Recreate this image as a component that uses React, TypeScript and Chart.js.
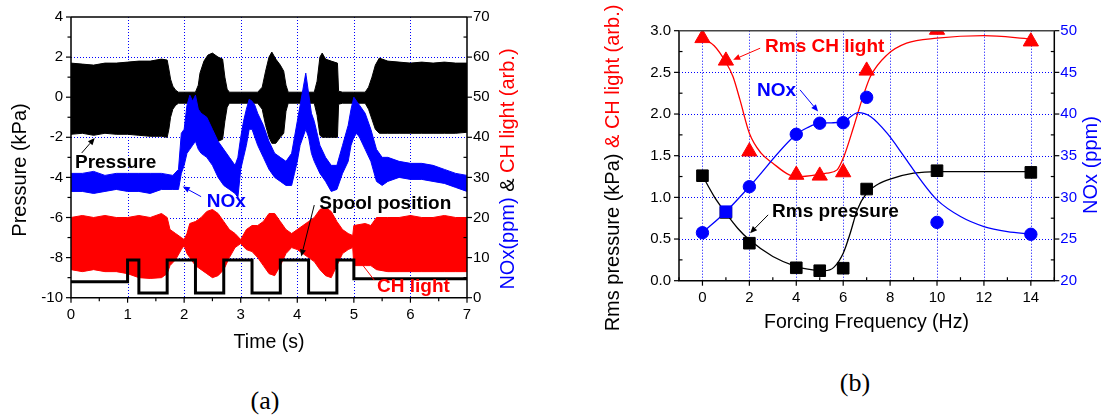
import React, { useEffect, useRef } from "react";
import { Chart, registerables } from "chart.js";

Chart.register(...registerables);

// ================= Panel (a): time traces (envelopes of dense signals) =================
const timeTicks = [0, 1, 2, 3, 4, 5, 6, 7];
const pressureTicks = [-10, -8, -6, -4, -2, 0, 2, 4];
const rightTicksA = [0, 10, 20, 30, 40, 50, 60, 70];

// Pressure (kPa) – upper/lower envelope of the oscillating trace
const pressureTimes = [0, 0.2, 0.4, 0.6, 0.8, 1.0, 1.2, 1.4, 1.6, 1.7, 1.73, 1.76, 1.8, 1.85, 1.9, 2.0, 2.2, 2.25, 2.28, 2.35, 2.42, 2.5, 2.6, 2.68, 2.72, 2.76, 2.8, 3.0, 3.3, 3.38, 3.44, 3.5, 3.55, 3.62, 3.7, 3.76, 3.8, 3.84, 4.0, 4.3, 4.35, 4.4, 4.44, 4.5, 4.6, 4.71, 4.73, 4.8, 5.0, 5.2, 5.26, 5.32, 5.38, 5.45, 5.6, 5.8, 6.0, 6.2, 6.4, 6.6, 6.8, 7.0];
const pressureUpper = [1.7, 1.65, 1.6, 1.7, 1.7, 1.75, 1.8, 1.8, 1.9, 1.85, 1.4, 0.9, 0.55, 0.35, 0.25, 0.25, 0.25, 0.6, 1.2, 1.8, 2.1, 2.2, 2.0, 1.9, 1.0, 0.4, 0.25, 0.25, 0.25, 0.5, 1.3, 2.0, 2.25, 1.9, 1.6, 1.3, 0.6, 0.25, 0.25, 0.25, 0.8, 2.0, 2.2, 1.9, 1.8, 1.7, 0.3, 0.25, 0.25, 0.25, 0.5, 1.0, 1.6, 1.95, 1.8, 1.75, 1.7, 1.75, 1.7, 1.75, 1.7, 1.7];
const pressureLower = [-1.85, -1.8, -1.9, -1.8, -1.85, -1.85, -1.9, -1.95, -1.95, -2.0, -1.6, -1.0, -0.6, -0.4, -0.3, -0.3, -0.3, -0.8, -1.5, -1.9, -2.1, -2.3, -2.2, -2.1, -1.2, -0.5, -0.3, -0.3, -0.3, -0.6, -1.4, -2.0, -2.3, -2.3, -2.0, -1.8, -0.7, -0.3, -0.3, -0.3, -0.9, -1.9, -2.0, -2.0, -2.0, -2.0, -0.35, -0.3, -0.3, -0.3, -0.6, -1.1, -1.6, -1.8, -1.8, -1.8, -1.8, -1.8, -1.8, -1.8, -1.8, -1.75];

// NOx (ppm, right axis) – envelope
const noxTimes = [0, 0.2, 0.4, 0.6, 0.8, 1.0, 1.2, 1.4, 1.6, 1.8, 1.9, 1.95, 2.0, 2.05, 2.1, 2.15, 2.2, 2.25, 2.3, 2.4, 2.5, 2.6, 2.7, 2.8, 2.9, 2.95, 3.0, 3.05, 3.1, 3.15, 3.2, 3.25, 3.3, 3.4, 3.5, 3.6, 3.7, 3.8, 3.9, 3.95, 4.0, 4.05, 4.1, 4.15, 4.2, 4.25, 4.3, 4.4, 4.5, 4.6, 4.7, 4.8, 4.9, 4.95, 5.0, 5.05, 5.1, 5.2, 5.3, 5.4, 5.5, 5.6, 5.8, 6.0, 6.2, 6.4, 6.6, 6.8, 7.0];
const noxUpper = [31, 31, 31.5, 30.5, 31, 31, 31, 31, 31, 30.5, 32, 41, 42, 48, 50.5, 49, 50.5, 47, 46, 45, 42, 39, 37, 35, 33, 35, 40, 44, 47, 49.5, 49, 48, 46, 43, 39, 36, 35, 34, 36, 40, 44, 48, 52, 56, 51, 46, 44, 38, 35, 33, 33, 38, 43, 47, 50, 49, 48, 46, 42, 37, 35, 35, 34, 33.5, 33.5, 33, 32, 31, 30.5];
const noxLower = [26.5, 26.5, 26, 26.5, 27, 26.5, 26.5, 26, 27, 27, 27, 31, 33, 36, 37, 38, 39, 37, 36, 35, 33, 30, 28, 27, 26, 25, 32, 35, 38, 42, 42, 40, 38, 35, 32, 30, 29, 28, 28, 31, 34, 38, 40, 42, 40, 36, 34, 31, 29, 26.5, 27, 31, 34, 38, 40, 41, 40, 37, 34, 29, 28, 29, 30, 29.5, 29.5, 29, 28.5, 27.5, 26.5];

// CH light (arb., right axis) – envelope
const chTimes = [0, 0.2, 0.4, 0.6, 0.8, 1.0, 1.2, 1.4, 1.6, 1.7, 1.75, 1.85, 1.95, 2.0, 2.05, 2.1, 2.2, 2.3, 2.4, 2.5, 2.6, 2.7, 2.8, 2.9, 3.0, 3.1, 3.2, 3.3, 3.4, 3.5, 3.6, 3.7, 3.8, 3.9, 4.0, 4.1, 4.2, 4.3, 4.4, 4.5, 4.6, 4.7, 4.8, 4.9, 4.98, 5.0, 5.2, 5.3, 5.4, 5.6, 5.8, 6.0, 6.2, 6.4, 6.6, 6.8, 7.0];
const chUpper = [20, 20.5, 20, 20.5, 20, 20, 20.5, 20, 21, 20, 17, 16, 15, 14.5, 16, 18.5, 19, 20, 21.5, 22, 21, 19, 17, 16, 14.5, 17, 18, 18, 19, 21, 21, 19, 17, 16, 17, 18, 19, 20, 22, 22.5, 21.5, 19, 17, 16, 15.5, 18, 18.5, 18, 20, 20, 20, 20.5, 20, 20, 20.5, 20, 20];
const chLower = [7, 6.5, 7, 6.5, 6.5, 6, 5, 4.8, 5, 6, 8, 9.5, 12, 13, 11, 10, 8, 7, 6, 5, 5.5, 7, 10, 12.5, 13.5, 12, 11.5, 10, 8, 6, 5.5, 8, 11, 12.5, 12, 11, 10, 9, 7, 5.5, 5, 8, 11, 12, 12.5, 8, 8, 8, 7, 6.5, 6.5, 6.5, 6.5, 6.5, 6.5, 6.5, 6.5];

// Spool position (right-axis units), each level holds until the next time
const spoolTimes = [0, 1.0, 1.2, 1.7, 2.2, 2.7, 3.2, 3.7, 4.2, 4.7, 5.0, 7.0];
const spoolLevels = [4.0, 9.4, 1.2, 9.4, 1.2, 9.4, 1.2, 9.4, 1.2, 9.4, 4.7, 4.7];

// ================= Panel (b): rms values vs forcing frequency =================
const freqTicks = [0, 2, 4, 6, 8, 10, 12, 14];
const freqPoints = [0, 1, 2, 4, 5, 6, 7, 10, 14];
const rmsPressure = [1.26, 0.82, 0.45, 0.155, 0.12, 0.15, 1.1, 1.32, 1.3];
const rmsCH = [2.91, 2.64, 1.55, 1.27, 1.26, 1.3, 2.52, 3.01, 2.87];
const noxPpm = [25.76, 28.28, 31.28, 37.57, 38.9, 38.96, 42.0, 27.0, 25.57];

const pressureFitFreq = [0, 0.5, 1, 1.5, 2, 3, 4, 4.7, 5.2, 5.6, 6.0, 6.3, 6.6, 7.0, 7.5, 8, 9, 10, 12, 14];
const pressureFit = [1.26, 1.01, 0.81, 0.63, 0.49, 0.29, 0.17, 0.13, 0.12, 0.16, 0.33, 0.57, 0.85, 1.05, 1.16, 1.22, 1.29, 1.31, 1.31, 1.31];
const chFitFreq = [0, 0.5, 1, 1.3, 1.6, 2, 2.5, 3, 3.7, 4.2, 5.3, 5.74, 6.03, 6.45, 6.8, 7.16, 7.87, 8.7, 10, 12, 14];
const chFit = [2.91, 2.82, 2.62, 2.45, 2.17, 1.77, 1.53, 1.41, 1.27, 1.25, 1.29, 1.33, 1.49, 1.85, 2.17, 2.45, 2.71, 2.85, 2.91, 2.94, 2.9];
const noxFitFreq = [0, 1, 2, 4, 4.5, 5, 5.5, 6, 6.65, 7.16, 7.87, 8.6, 9.3, 10, 11, 12, 13, 14];
const noxFit = [25.76, 28.28, 31.28, 37.57, 38.4, 38.9, 38.95, 39.1, 40.16, 39.7, 37.7, 34.9, 32.1, 29.7, 27.7, 26.5, 25.9, 25.6];

// ================= styling =================
const BLUE = "#0000ff";
const RED = "#ff0000";
const BLACK = "#000000";
const FONT = "Arial, 'Liberation Sans', Helvetica, sans-serif";
const TICK_FONT = { family: FONT, size: 15 };

const xy = (xs: number[], ys: number[]) => xs.map((x, i) => ({ x, y: ys[i] }));
const range = (a: number, b: number, step: number) => {
  const out: number[] = [];
  for (let v = a; v <= b + 1e-9; v += step) out.push(Math.round(v * 1000) / 1000);
  return out;
};

type TickSpec = { scale: string; side: "left" | "right" | "bottom"; major: number[]; minor: number[]; majorOut: boolean; minorOut: boolean };
type GridSpec = { scale: string; dir: "v" | "h"; values: number[] };
type Seg = { text: string; color: string };
type TitleSpec = { segs: Seg[]; x: number; y: number; rotate: boolean; size: number };
type Note = { text: string; color: string; tx: number; ty: number; ax1: number; ay1: number; ax2: number; ay2: number; yScale: string };

function drawArrow(ctx: CanvasRenderingContext2D, x1: number, y1: number, x2: number, y2: number, color: string) {
  const ang = Math.atan2(y2 - y1, x2 - x1);
  const hl = 7, hw = 3;
  const bx = x2 - hl * Math.cos(ang), by = y2 - hl * Math.sin(ang);
  ctx.strokeStyle = color;
  ctx.fillStyle = color;
  ctx.lineWidth = 1;
  ctx.beginPath();
  ctx.moveTo(x1, y1);
  ctx.lineTo(bx, by);
  ctx.stroke();
  ctx.beginPath();
  ctx.moveTo(x2, y2);
  ctx.lineTo(bx + hw * Math.sin(ang), by - hw * Math.cos(ang));
  ctx.lineTo(bx - hw * Math.sin(ang), by + hw * Math.cos(ang));
  ctx.closePath();
  ctx.fill();
}

function makeDecoPlugin(ticks: TickSpec[], grid: GridSpec[], titles: TitleSpec[], notes: Note[], topColor: string) {
  return {
    id: "deco",
    beforeDatasetsDraw(chart: any) {
      const { ctx, chartArea: a } = chart;
      ctx.save();
      ctx.strokeStyle = BLUE;
      ctx.lineWidth = 1;
      ctx.setLineDash([1, 2]);
      grid.forEach((g) => {
        const s = chart.scales[g.scale];
        g.values.forEach((v) => {
          const p = Math.round(s.getPixelForValue(v)) + 0.5;
          ctx.beginPath();
          if (g.dir === "v") {
            ctx.moveTo(p, a.top);
            ctx.lineTo(p, a.bottom);
          } else {
            ctx.moveTo(a.left, p);
            ctx.lineTo(a.right, p);
          }
          ctx.stroke();
        });
      });
      ctx.restore();
    },
    afterDatasetsDraw(chart: any) {
      const { ctx, chartArea: a } = chart;
      ctx.save();
      ctx.lineWidth = 1.5;
      ctx.strokeStyle = BLACK;
      ctx.beginPath();
      ctx.moveTo(a.left, a.top);
      ctx.lineTo(a.left, a.bottom);
      ctx.lineTo(a.right, a.bottom);
      ctx.lineTo(a.right, a.top);
      ctx.stroke();
      ctx.strokeStyle = topColor;
      ctx.beginPath();
      ctx.moveTo(a.left, a.top);
      ctx.lineTo(a.right, a.top);
      ctx.stroke();
      ctx.strokeStyle = BLACK;
      ctx.lineWidth = 1.2;
      ticks.forEach((sp) => {
        const s = chart.scales[sp.scale];
        const draw = (vals: number[], len: number, out: boolean) =>
          vals.forEach((v) => {
            const p = s.getPixelForValue(v);
            ctx.beginPath();
            if (sp.side === "left") {
              ctx.moveTo(a.left, p);
              ctx.lineTo(out ? a.left - len : a.left + len, p);
            } else if (sp.side === "right") {
              ctx.moveTo(a.right, p);
              ctx.lineTo(out ? a.right + len : a.right - len, p);
            } else {
              ctx.moveTo(p, a.bottom);
              ctx.lineTo(p, out ? a.bottom + len : a.bottom - len);
            }
            ctx.stroke();
          });
        draw(sp.major, 5, sp.majorOut);
        draw(sp.minor, 3.5, sp.minorOut);
      });
      ctx.restore();
    },
    afterDraw(chart: any) {
      const ctx: CanvasRenderingContext2D = chart.ctx;
      ctx.save();
      // axis titles (possibly multi-coloured)
      titles.forEach((t) => {
        ctx.save();
        ctx.font = `${t.size}px ${FONT}`;
        const widths = t.segs.map((s) => ctx.measureText(s.text).width);
        const total = widths.reduce((p, c) => p + c, 0);
        ctx.translate(t.x, t.y);
        if (t.rotate) ctx.rotate(-Math.PI / 2);
        ctx.textBaseline = "middle";
        ctx.textAlign = "left";
        let x = -total / 2;
        t.segs.forEach((s, i) => {
          ctx.fillStyle = s.color;
          ctx.fillText(s.text, x, 0);
          x += widths[i];
        });
        ctx.restore();
      });
      // annotations with arrows (given in data coordinates)
      const xs = chart.scales.x;
      notes.forEach((n) => {
        const ys = chart.scales[n.yScale];
        ctx.font = `bold 19px ${FONT}`;
        ctx.fillStyle = n.color;
        ctx.textAlign = "left";
        ctx.textBaseline = "middle";
        ctx.fillText(n.text, xs.getPixelForValue(n.tx), ys.getPixelForValue(n.ty));
        drawArrow(ctx, xs.getPixelForValue(n.ax1), ys.getPixelForValue(n.ay1), xs.getPixelForValue(n.ax2), ys.getPixelForValue(n.ay2), n.color);
      });
      ctx.restore();
    },
  };
}

const noAxisGrid = { display: false, drawTicks: false };
const noBorder = { display: false };

function buildPanelA(): any {
  const band = (label: string, times: number[], vals: number[], color: string, axis: string, fill: any) => ({
    label,
    data: xy(times, vals),
    yAxisID: axis,
    borderColor: color,
    backgroundColor: color,
    borderWidth: 1,
    pointRadius: 0,
    tension: 0,
    fill,
  });
  const datasets = [
    { label: "Spool position", data: xy(spoolTimes, spoolLevels), yAxisID: "y2", borderColor: BLACK, borderWidth: 3, pointRadius: 0, stepped: true, fill: false },
    band("NOx upper", noxTimes, noxUpper, BLUE, "y2", "+1"),
    band("NOx lower", noxTimes, noxLower, BLUE, "y2", false),
    band("CH upper", chTimes, chUpper, RED, "y2", "+1"),
    band("CH lower", chTimes, chLower, RED, "y2", false),
    band("Pressure upper", pressureTimes, pressureUpper, BLACK, "y", "+1"),
    band("Pressure lower", pressureTimes, pressureLower, BLACK, "y", false),
  ];
  const plugin = makeDecoPlugin(
    [
      { scale: "y", side: "left", major: pressureTicks, minor: range(-9, 3, 2), majorOut: true, minorOut: true },
      { scale: "y2", side: "right", major: rightTicksA, minor: range(5, 65, 10), majorOut: true, minorOut: false },
      { scale: "x", side: "bottom", major: timeTicks, minor: range(0.5, 6.5, 1), majorOut: true, minorOut: true },
    ],
    [
      { scale: "x", dir: "v", values: [1, 2, 3, 4, 5, 6] },
      { scale: "y", dir: "h", values: [-8, -6, -4, -2, 0, 2] },
    ],
    [
      { segs: [{ text: "Pressure (kPa)", color: BLACK }], x: 20, y: 170, rotate: true, size: 20 },
      {
        segs: [
          { text: "NOx(ppm)", color: BLUE },
          { text: " & ", color: BLACK },
          { text: "CH light (arb.)", color: RED },
        ],
        x: 508,
        y: 169,
        rotate: true,
        size: 20,
      },
      { segs: [{ text: "Time (s)", color: BLACK }], x: 269, y: 343, rotate: false, size: 19.5 },
    ],
    [
      { text: "Pressure", color: BLACK, tx: 0.07, ty: -3.27, ax1: 0.19, ay1: -2.78, ax2: 0.42, ay2: -2.03, yScale: "y" },
      { text: "NOx", color: BLUE, tx: 2.4, ty: -5.21, ax1: 2.3, ay1: -4.96, ax2: 1.975, ay2: -4.46, yScale: "y" },
      { text: "Spool position", color: BLACK, tx: 4.39, ty: -5.33, ax1: 4.3, ay1: -5.38, ax2: 4.07, ay2: -7.95, yScale: "y" },
      { text: "CH light", color: RED, tx: 5.41, ty: -9.47, ax1: 5.36, ay1: -9.12, ax2: 5.04, ay2: -7.95, yScale: "y" },
    ],
    BLACK
  );
  return {
    type: "line",
    data: { datasets },
    plugins: [plugin],
    options: {
      responsive: false,
      animation: false,
      devicePixelRatio: 1,
      events: [],
      layout: { padding: { top: 17, left: 0, right: 0, bottom: 0 } },
      plugins: { legend: { display: false }, tooltip: { enabled: false } },
      scales: {
        x: {
          type: "linear",
          min: 0,
          max: 7,
          ticks: { stepSize: 1, font: TICK_FONT, color: BLACK, padding: 8, maxRotation: 0, autoSkip: false },
          grid: noAxisGrid,
          border: noBorder,
          afterFit: (s: any) => {
            s.height = 62.3;
          },
        },
        y: {
          type: "linear",
          position: "left",
          min: -10,
          max: 4,
          ticks: { stepSize: 2, font: TICK_FONT, color: BLACK, padding: 8 },
          grid: noAxisGrid,
          border: noBorder,
          afterFit: (s: any) => {
            s.width = 71;
          },
        },
        y2: {
          type: "linear",
          position: "right",
          min: 0,
          max: 70,
          ticks: { stepSize: 10, font: TICK_FONT, color: BLACK, padding: 6 },
          grid: noAxisGrid,
          border: noBorder,
          afterFit: (s: any) => {
            s.width = 86;
          },
        },
      },
    },
  };
}

function buildPanelB(): any {
  const curve = (label: string, xs: number[], ys: number[], color: string, axis: string) => ({
    label,
    data: xy(xs, ys),
    yAxisID: axis,
    borderColor: color,
    borderWidth: 1.3,
    pointRadius: 0,
    cubicInterpolationMode: "monotone",
    fill: false,
  });
  const marks = (label: string, ys: number[], color: string, axis: string, style: any, radius: any) => ({
    label,
    data: xy(freqPoints, ys),
    yAxisID: axis,
    showLine: false,
    pointStyle: style,
    pointRadius: radius,
    pointBackgroundColor: color,
    pointBorderColor: color,
    pointBorderWidth: 1,
    borderColor: color,
    backgroundColor: color,
    fill: false,
  });
  const noxStyles = freqPoints.map((f) => (f === 1 ? "rect" : "circle"));
  const noxRadii = freqPoints.map((f) => (f === 1 ? 8.2 : 6.2));
  const datasets = [
    marks("NOx", noxPpm, BLUE, "y2", noxStyles, noxRadii),
    marks("Rms CH light", rmsCH, RED, "y", "triangle", 8.8),
    marks("Rms pressure", rmsPressure, BLACK, "y", "rect", 8.2),
    curve("NOx fit", noxFitFreq, noxFit, BLUE, "y2"),
    curve("CH fit", chFitFreq, chFit, RED, "y"),
    curve("Pressure fit", pressureFitFreq, pressureFit, BLACK, "y"),
  ];
  const plugin = makeDecoPlugin(
    [
      { scale: "y", side: "left", major: range(0, 3, 0.5), minor: range(0.25, 2.75, 0.5), majorOut: true, minorOut: false },
      { scale: "y2", side: "right", major: range(20, 50, 5), minor: range(22.5, 47.5, 5), majorOut: true, minorOut: false },
      { scale: "x", side: "bottom", major: freqTicks, minor: range(-1, 15, 2), majorOut: true, minorOut: false },
    ],
    [
      { scale: "x", dir: "v", values: freqTicks },
      { scale: "y", dir: "h", values: [0.5, 1, 1.5, 2, 2.5] },
    ],
    [
      {
        segs: [
          { text: "Rms pressure (kPa) ", color: BLACK },
          { text: "& CH light (arb.)", color: RED },
        ],
        x: 60,
        y: 168,
        rotate: true,
        size: 20,
      },
      { segs: [{ text: "NOx (ppm)", color: BLUE }], x: 538.7, y: 165, rotate: true, size: 20 },
      { segs: [{ text: "Forcing Frequency (Hz)", color: BLACK }], x: 313.5, y: 323, rotate: false, size: 19.5 },
    ],
    [
      { text: "Rms CH light", color: RED, tx: 2.67, ty: 2.81, ax1: 2.46, ay1: 2.79, ax2: 1.31, ay2: 2.65, yScale: "y" },
      { text: "NOx", color: BLUE, tx: 2.33, ty: 2.28, ax1: 4.16, ay1: 2.29, ax2: 4.93, ay2: 2.03, yScale: "y" },
      { text: "Rms pressure", color: BLACK, tx: 2.97, ty: 0.83, ax1: 2.8, ay1: 0.79, ax2: 2.03, ay2: 0.57, yScale: "y" },
    ],
    "#444444"
  );
  return {
    type: "line",
    data: { datasets },
    plugins: [plugin],
    options: {
      responsive: false,
      animation: false,
      devicePixelRatio: 1,
      events: [],
      layout: { padding: { top: 30.7, left: 0, right: 0, bottom: 0 } },
      plugins: { legend: { display: false }, tooltip: { enabled: false } },
      scales: {
        x: {
          type: "linear",
          min: -1,
          max: 15,
          afterBuildTicks: (s: any) => {
            s.ticks = freqTicks.map((v) => ({ value: v }));
          },
          ticks: { font: TICK_FONT, color: BLACK, padding: 8, maxRotation: 0, autoSkip: false },
          grid: noAxisGrid,
          border: noBorder,
          afterFit: (s: any) => {
            s.height = 79.3;
          },
        },
        y: {
          type: "linear",
          position: "left",
          min: 0,
          max: 3,
          ticks: { stepSize: 0.5, font: TICK_FONT, color: BLACK, padding: 8, callback: (v: any) => Number(v).toFixed(1) },
          grid: noAxisGrid,
          border: noBorder,
          afterFit: (s: any) => {
            s.width = 126;
          },
        },
        y2: {
          type: "linear",
          position: "right",
          min: 20,
          max: 50,
          ticks: { stepSize: 5, font: TICK_FONT, color: BLUE, padding: 6 },
          grid: noAxisGrid,
          border: noBorder,
          afterFit: (s: any) => {
            s.width = 52.7;
          },
        },
      },
    },
  };
}

function ChartCanvas({ build, left, width, height }: { build: () => any; left: number; width: number; height: number }) {
  const ref = useRef<HTMLCanvasElement>(null);
  useEffect(() => {
    const chart = new Chart(ref.current as HTMLCanvasElement, build());
    return () => chart.destroy();
  }, [build]);
  return <canvas ref={ref} width={width} height={height} style={{ position: "absolute", left, top: 0, width, height }} />;
}

const panelLabelStyle: React.CSSProperties = {
  position: "absolute",
  fontFamily: "'Liberation Serif', 'Times New Roman', serif",
  fontSize: 26,
  lineHeight: "30px",
  color: BLACK,
  width: 60,
  textAlign: "center",
};

export default function App() {
  return (
    <div style={{ position: "fixed", left: 0, top: 0, width: 1107, height: 420, background: "#ffffff", overflow: "hidden" }}>
      <ChartCanvas build={buildPanelA} left={0} width={553} height={360} />
      <ChartCanvas build={buildPanelB} left={553} width={554} height={360} />
      <div style={{ ...panelLabelStyle, left: 235, top: 386 }}>(a)</div>
      <div style={{ ...panelLabelStyle, left: 825, top: 368 }}>(b)</div>
    </div>
  );
}
